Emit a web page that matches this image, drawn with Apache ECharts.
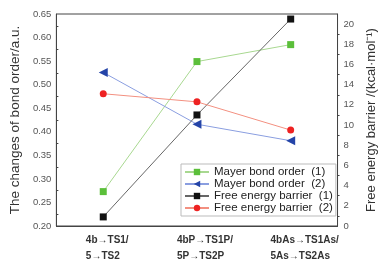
<!DOCTYPE html>
<html>
<head>
<meta charset="utf-8">
<script src="https://cdn.jsdelivr.net/npm/echarts@6/dist/echarts.min.js"></script>
<style>
  html, body { margin: 0; padding: 0; background: #fff; }
  #main { width: 386px; height: 261px; }
</style>
</head>
<body>
<div id="main"></div>
<script>
var categories = ['4b→TS1/\n5→TS2', '4bP→TS1P/\n5P→TS2P', '4bAs→TS1As/\n5As→TS2As']
var mayer1 = [0.273, 0.549, 0.585]
var mayer2 = [0.526, 0.416, 0.381]
var energy1 = [0.9, 11.0, 20.5]
var energy2 = [13.1, 12.3, 9.5]

var font = 'Liberation Sans, Arial, sans-serif'
var mychart = echarts.init(document.getElementById('main'))

function lineSeries(name, data, axis, symbol, size, lineColor, markColor) {
  return {
    name: name,
    type: 'line',
    yAxisIndex: axis,
    data: data,
    symbol: symbol,
    symbolSize: size,
    symbolKeepAspect: true,
    lineStyle: { color: lineColor, width: 1 },
    itemStyle: { color: markColor },
    emphasis: { disabled: true },
    z: 2
  }
}

// label styles, nudged a bit right like the original
var labRich = {}
var shift = [8, 16, 28]
for (let i = 0; i < 3; i++) {
  labRich['a' + i] = {
    fontFamily: font, fontSize: 10, fontWeight: 'bold', color: '#333',
    lineHeight: 16, align: 'left', padding: [0, 0, 0, shift[i]]
  }
}

var option = {
  animation: false,
  grid: {
    left: 55, right: 41, top: 14, bottom: 33,
    show: true, borderColor: '#444', borderWidth: 1
  },
  legend: {
    orient: 'vertical',
    left: 181, top: 164,
    width: 154,
    backgroundColor: '#fff',
    borderColor: '#bbb',
    borderWidth: 1,
    padding: [2, 3, 2, 3],
    itemGap: 0,
    itemWidth: 24,
    itemHeight: 8,
    z: 5,
    textStyle: { fontFamily: font, fontSize: 11.5, lineHeight: 11.5, color: '#222' },
    data: ['Mayer bond order  (1)', 'Mayer bond order  (2)', 'Free energy barrier  (1)', 'Free energy barrier  (2)']
  },
  xAxis: [{
    type: 'category',
    data: categories,
    boundaryGap: true,
    axisLine: { lineStyle: { color: '#444' } },
    axisTick: { inside: true, length: 3, lineStyle: { color: '#444' } },
    axisLabel: {
      interval: 0,
      hideOverlap: false,
      fontFamily: font, fontSize: 10, fontWeight: 'bold', color: '#333',
      margin: 6, align: 'center',
      formatter: function (v, idx) {
        return v.split('\n').map(function (s) { return '{a' + idx + '|' + s + '}' }).join('\n')
      },
      rich: labRich
    }
  }, {
    type: 'category',
    data: categories,
    position: 'bottom',
    axisLine: { show: false },
    axisTick: { alignWithLabel: true, inside: true, length: 3, lineStyle: { color: '#444' } },
    axisLabel: { show: false }
  }],
  yAxis: [{
    type: 'value',
    min: 0.2, max: 0.65, interval: 0.05,
    name: 'The changes of bond order/a.u.',
    nameLocation: 'middle',
    nameGap: 24,
    nameTextStyle: { fontFamily: font, fontSize: 13.5, color: '#333' },
    axisLine: { show: true, lineStyle: { color: '#444' } },
    axisTick: { inside: true, length: 3, lineStyle: { color: '#444' } },
    minorTick: { show: true, splitNumber: 2, length: 2, lineStyle: { color: '#444' } },
    splitLine: { show: false },
    axisLabel: {
      fontFamily: font, fontSize: 9.5, color: '#555', margin: 5,
      formatter: function (v) { return v.toFixed(2) }
    }
  }, {
    type: 'value',
    min: 0, max: 21, interval: 2,
    name: 'Free energy barrier /(kcal·mol⁻¹)',
    nameLocation: 'middle',
    nameGap: 20,
    nameRotate: 90,
    nameTextStyle: { fontFamily: font, fontSize: 13, color: '#333' },
    axisLine: { show: true, lineStyle: { color: '#444' } },
    axisTick: { length: 4, lineStyle: { color: '#444' } },
    minorTick: { show: true, splitNumber: 2, length: 2, lineStyle: { color: '#444' } },
    splitLine: { show: false },
    axisLabel: {
      fontFamily: font, fontSize: 9.5, color: '#555', margin: 6,
      showMaxLabel: false,
      formatter: function (v) { return v > 20 ? '' : v }
    }
  }],
  series: [
    lineSeries('Mayer bond order  (1)', mayer1, 0, 'rect', 7, '#a8d890', '#5bbf3a'),
    lineSeries('Mayer bond order  (2)', mayer2, 0, 'triangle', 9, '#8a9ee0', '#2444a8'),
    lineSeries('Free energy barrier  (1)', energy1, 1, 'rect', 7, '#666', '#111'),
    lineSeries('Free energy barrier  (2)', energy2, 1, 'circle', 7, '#f39080', '#ee2222')
  ]
}
option.series[1].symbolRotate = 90
mychart.setOption(option)
</script>
</body>
</html>
